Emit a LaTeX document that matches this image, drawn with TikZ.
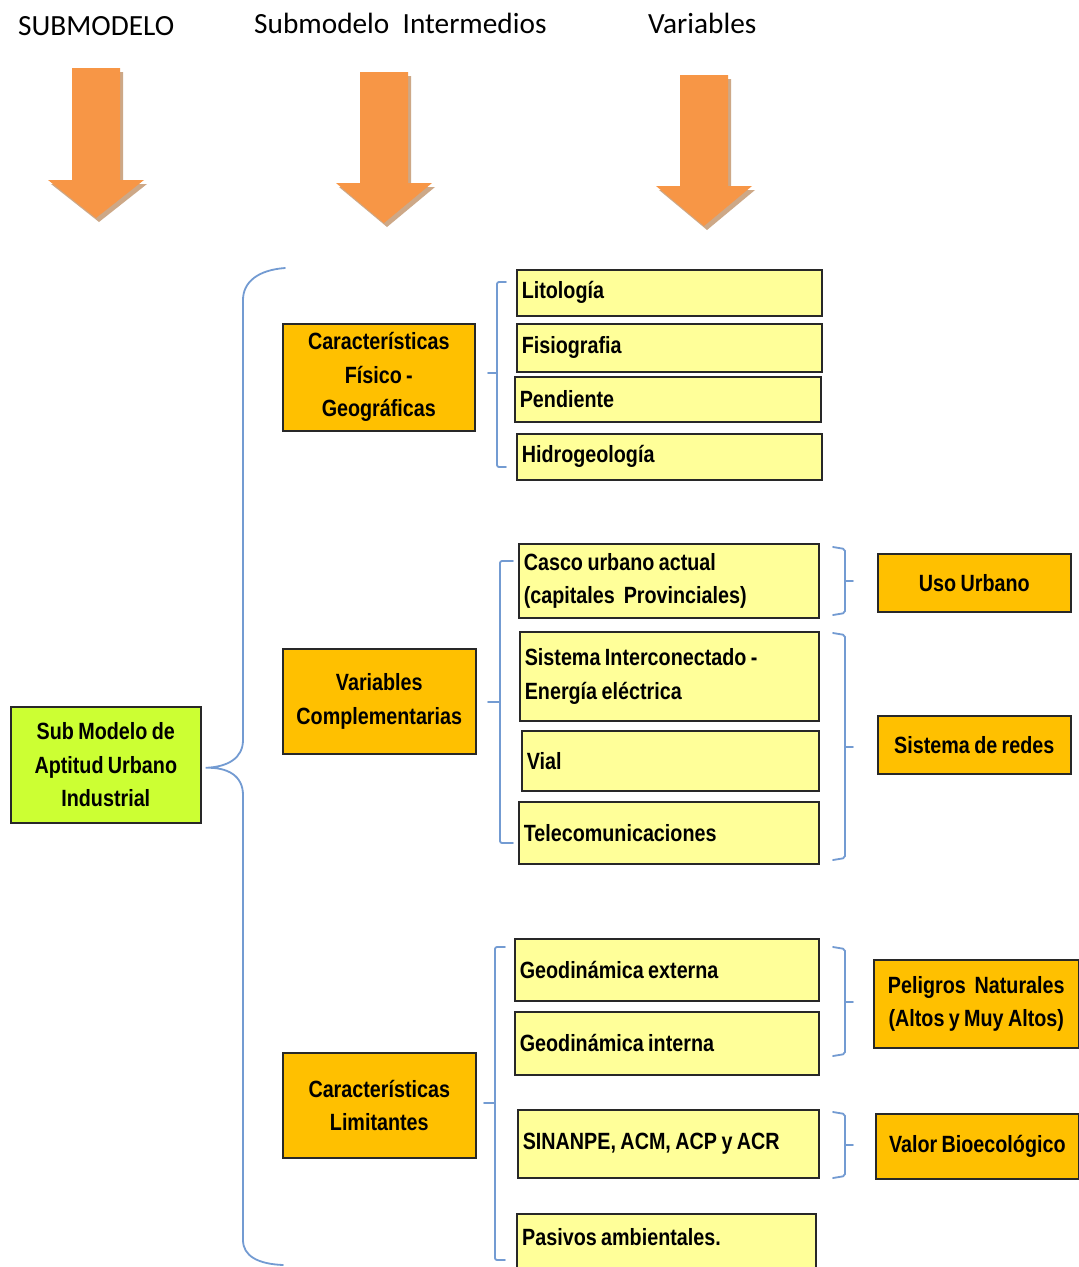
\documentclass[tikz,border=0pt]{standalone}
\usepackage{fontspec}
\setmainfont{Carlito}
\newfontfamily\boxfont[FakeStretch=0.84,WordSpace=0.8]{Liberation Sans}
\newcommand\boxtextfont{\boxfont\bfseries\fontsize{23.5}{33.5}\selectfont}
\newcommand\boxsp{\spaceskip 0.19em plus 0.02em\relax\xspaceskip 0.25em\relax}
\usetikzlibrary{shadows,calc}
\definecolor{arrorange}{HTML}{F79646}
\definecolor{arrshadow}{RGB}{205,168,135}
\definecolor{boxorange}{HTML}{FFC000}
\definecolor{boxyellow}{HTML}{FFFF99}
\definecolor{boxgreen}{HTML}{CCFF33}
\definecolor{bracecol}{RGB}{115,155,210}
\definecolor{bordercol}{RGB}{40,40,40}
\tikzset{
  box/.style={draw=bordercol, line width=1.6pt, inner sep=0pt, anchor=north west,
    font=\boxtextfont,
    drop shadow={shadow xshift=1.5pt, shadow yshift=-1.5pt, opacity=0.35, fill=black}},
  varbox/.style={box, fill=boxyellow, align=left, inner xsep=5pt},
  midbox/.style={box, fill=boxorange, align=center},
  rootbox/.style={box, fill=boxgreen, align=center},
  brace/.style={draw=bracecol, line width=1.8pt, line cap=round, rounded corners=2pt},
  header/.style={font=\fontsize{29.3}{34}\selectfont, anchor=west, inner sep=0pt},
}
% name, x, y, width, height, text
\newcommand\varnode[6]{\node[varbox, text width=#4pt, minimum height=#5pt] (#1) at (#2,#3) {\boxsp #6};}
\newcommand\midnode[7]{\node[#7, minimum width=#4pt, minimum height=#5pt] (#1) at (#2,#3) {#6};}
% cx, top, headtop, tip
\newcommand\bigdownarrow[4]{%
  \fill[arrshadow, shift={(3,4)}] (#1-24,#2) -- (#1+24,#2) -- (#1+24,#3) -- (#1+48,#3) -- (#1,#4) -- (#1-48,#3) -- (#1-24,#3) -- cycle;
  \fill[arrorange] (#1-24,#2) -- (#1+24,#2) -- (#1+24,#3) -- (#1+48,#3) -- (#1,#4) -- (#1-48,#3) -- (#1-24,#3) -- cycle;}
\begin{document}
\begin{tikzpicture}[x=1pt,y=-1pt]
\clip (0,0) rectangle (1079,1267);
\fill[white] (0,0) rectangle (1079,1267);

% headers
\node[header] (h1) at (18,26) {SUBMODELO};
\node[header] (h2) at (254,23) {Submodelo\ \ Intermedios};
\node[header] (h3) at (648,23) {Variables};

% arrows
\bigdownarrow{96}{68}{180}{218}
\bigdownarrow{384}{72}{183}{223}
\bigdownarrow{704}{75}{186}{226}

% root and intermediate
\midnode{root}{10}{706}{190}{116}{Sub Modelo de\\Aptitud Urbano\\Industrial}{rootbox}
\midnode{cfg}{282}{323}{192}{107}{Características\\Físico -\\Geográficas}{midbox}
\midnode{vc}{282}{648}{193}{105}{Variables\\Complementarias}{midbox}
\midnode{cl}{282}{1052}{193}{105}{Características\\Limitantes}{midbox}

% variables (text width = width - 10)
\varnode{lit}{516}{269}{295}{46}{Litología}
\varnode{fis}{516}{323}{295}{48}{Fisiografia}
\varnode{pen}{514}{376}{296}{45}{Pendiente}
\varnode{hid}{516}{433}{295}{46}{Hidrogeología}
\varnode{cas}{518}{543}{290}{74}{Casco urbano actual\\(capitales\ \ Provinciales)}
\varnode{sis}{519}{631}{289}{89}{Sistema Interconectado -\\Energía eléctrica}
\varnode{vial}{521}{730}{287}{60}{Vial}
\varnode{tel}{518}{801}{290}{62}{Telecomunicaciones}
\varnode{gext}{514}{938}{294}{62}{Geodinámica externa}
\varnode{gint}{514}{1011}{294}{63}{Geodinámica interna}
\varnode{sin}{517}{1109}{291}{68}{SINANPE, ACM, ACP y ACR}
\varnode{pas}{516}{1213}{289}{95}{}
\node[anchor=west, inner sep=0pt, font=\boxtextfont] (pastext) at ($(pas.north west)+(6,24)$) {Pasivos ambientales.};

% right-hand groups
\midnode{uso}{877}{553}{193}{58}{Uso Urbano}{midbox}
\midnode{red}{877}{715}{193}{58}{Sistema de redes}{midbox}
\midnode{pel}{873}{959}{205}{88}{Peligros\ \ Naturales\\(Altos y Muy Altos)}{midbox}
\midnode{val}{875}{1113}{203}{65}{Valor Bioecológico}{midbox}

% big brace
\coordinate (tip) at ($(root.east)+(4,3)$);
\draw[brace, rounded corners=0pt] (285,268) .. controls (258,270) and (243,282) .. (243,300)
  -- (243,740) .. controls (243,758) and (228,767) .. (tip)
  .. controls (228,767) and (243,776) .. (243,795)
  -- (243,1240) .. controls (243,1256) and (258,1264) .. (283,1265);

% left brackets of variable groups
\draw[brace] (506,282) -- (497,282) -- (497,467) -- (506,467);
\draw[brace] (497,373) -- (488,373);
\draw[brace] (513,561) -- (500,561) -- (500,843) -- (513,843);
\draw[brace] (500,702) -- (488,702);
\draw[brace] (505,947) -- (495,947) -- (495,1260) -- (505,1260);
\draw[brace] (495,1103) -- (484,1103);

% right braces
\draw[brace] (833,547) -- (845,549) -- (845,613) -- (833,615);
\draw[brace] (845,581) -- (853,581);
\draw[brace] (833,633) -- (845,635) -- (845,858) -- (833,860);
\draw[brace] (845,747) -- (853,747);
\draw[brace] (833,947) -- (845,949) -- (845,1054) -- (833,1056);
\draw[brace] (845,1002) -- (853,1002);
\draw[brace] (833,1112) -- (845,1114) -- (845,1176) -- (833,1178);
\draw[brace] (845,1145) -- (853,1145);
\end{tikzpicture}
\end{document}
